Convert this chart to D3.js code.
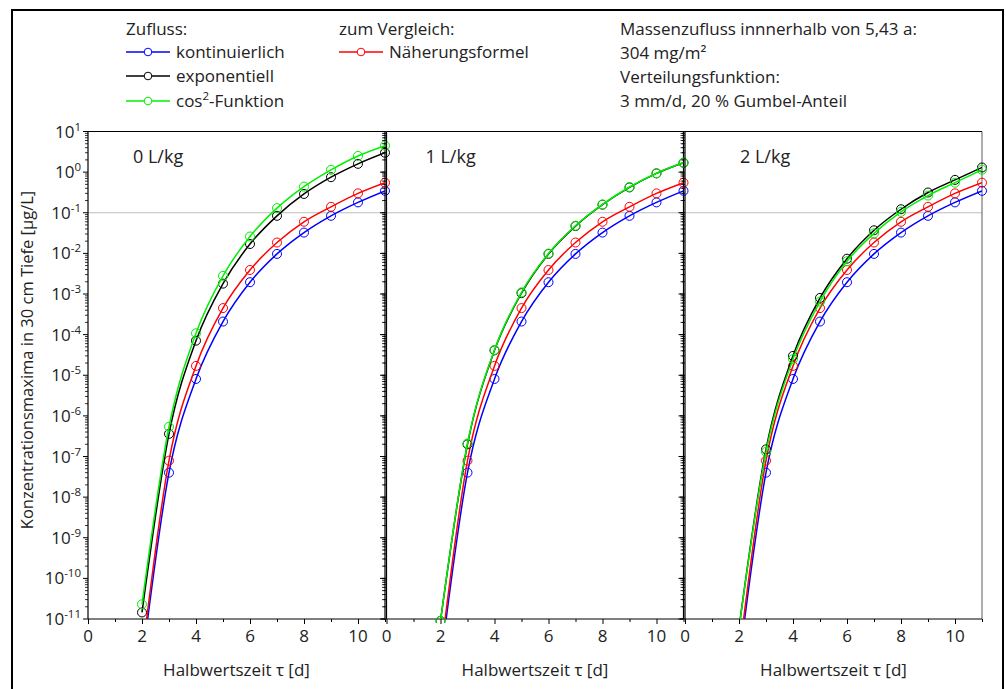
<!DOCTYPE html>
<html><head><meta charset="utf-8">
<script src="https://cdn.jsdelivr.net/npm/d3@7"></script>
<style>
html,body{margin:0;padding:0;background:#fff;}
text{font-family:"Open Sans","Noto Sans",sans-serif;fill:#222;}
</style></head>
<body><svg id="c" width="1006" height="689"></svg>
<script>
// ---- data ----
const halfLives = [2, 3, 4, 5, 6, 7, 8, 9, 10, 11];
const panelLabels = ["0 L/kg", "1 L/kg", "2 L/kg"];
const kontinuierlich = [8e-13, 4.0e-8, 8.1e-6, 2.1e-4, 1.95e-3, 9.7e-3, 3.25e-2, 8.4e-2, 0.18, 0.346];
const naeherungsformel = [1.2e-12, 7.9e-8, 1.7e-5, 4.5e-4, 3.9e-3, 1.85e-2, 6.0e-2, 0.14, 0.30, 0.55];
const exponentiell = [
  [1.45e-11, 3.6e-7, 7.1e-5, 1.8e-3, 1.7e-2, 8.4e-2, 0.29, 0.75, 1.6, 3.0],
  [9e-12, 2.0e-7, 4.1e-5, 1.05e-3, 9.7e-3, 4.7e-2, 0.158, 0.42, 0.93, 1.7],
  [6e-12, 1.5e-7, 3.0e-5, 8.0e-4, 7.4e-3, 3.7e-2, 0.122, 0.315, 0.645, 1.3]
];
const cos2Funktion = [
  [2.3e-11, 5.4e-7, 1.08e-4, 2.8e-3, 2.6e-2, 0.13, 0.44, 1.14, 2.5, 4.5],
  [9e-12, 2.1e-7, 4.2e-5, 1.1e-3, 9.9e-3, 4.8e-2, 0.16, 0.43, 0.94, 1.72],
  [6e-12, 1.3e-7, 2.5e-5, 6.5e-4, 6.4e-3, 3.1e-2, 0.105, 0.265, 0.55, 1.14]
];
const yTickExponents = [1, 0, -1, -2, -3, -4, -5, -6, -7, -8, -9, -10, -11];
const xTickLabels = [0, 2, 4, 6, 8, 10];
const thresholdValue = 0.1;
const legendHeader = ["Zufluss:", "zum Vergleich:"];
const infoLines = ["Massenzufluss innnerhalb von 5,43 a:", "304 mg/m²", "Verteilungsfunktion:", "3 mm/d, 20 % Gumbel-Anteil"];
const yTitle = "Konzentrationsmaxima in 30 cm Tiefe [µg/L]";
const xTitle = "Halbwertszeit τ [d]";

// ---- layout ----
const svg = d3.select("#c");
const colors = {blue: "#0000ff", red: "#ff0000", black: "#000000", green: "#00f000"};
const FS = "17px";
svg.append("rect").attr("x", 12).attr("y", 10).attr("width", 991).attr("height", 700)
  .attr("fill", "none").attr("stroke", "#000").attr("stroke-width", 2);

const plotTop = 131.5, plotBottom = 619, pw = 297;
const panelLeft = [88, 386.5, 685];
const y = d3.scaleLog().domain([1e-11, 10]).range([plotBottom, plotTop]);

const minorVals = [];
for (let e = -11; e < 1; e++) for (let m = 2; m <= 9; m++) minorVals.push(m * Math.pow(10, e));

panelLabels.forEach((lab, i) => {
  const x0 = panelLeft[i];
  const x = d3.scaleLinear().domain([0, 11]).range([x0, x0 + pw]);
  const g = svg.append("g");
  const clipId = "clip" + i;
  svg.append("clipPath").attr("id", clipId).append("rect")
    .attr("x", x0).attr("y", plotTop).attr("width", pw).attr("height", plotBottom - plotTop);
  const clipM = "clipm" + i;
  svg.append("clipPath").attr("id", clipM).append("rect")
    .attr("x", x0 - 10).attr("y", plotTop - 10).attr("width", pw + 20).attr("height", plotBottom - plotTop + 14);

  g.append("line").attr("x1", x0).attr("x2", x0 + pw).attr("y1", y(thresholdValue)).attr("y2", y(thresholdValue))
    .attr("stroke", "#bdbdbd").attr("stroke-width", 1.2);

  const la = g.append("g");
  la.append("line").attr("x1", x0).attr("x2", x0).attr("y1", plotTop).attr("y2", plotBottom).attr("stroke", "#000").attr("stroke-width", 1.2);
  yTickExponents.forEach(e => {
    la.append("line").attr("x1", x0 - 5).attr("x2", x0).attr("y1", y(Math.pow(10, e))).attr("y2", y(Math.pow(10, e))).attr("stroke", "#000");
  });
  minorVals.forEach(v => {
    la.append("line").attr("x1", x0 - 3).attr("x2", x0).attr("y1", y(v)).attr("y2", y(v)).attr("stroke", "#000").attr("stroke-width", 0.8);
  });
  const xr = x0 + pw;
  if (i < 2) {
    la.append("line").attr("x1", xr).attr("x2", xr).attr("y1", plotTop).attr("y2", plotBottom).attr("stroke", "#000").attr("stroke-width", 1.2);
    yTickExponents.forEach(e => {
      la.append("line").attr("x1", xr - 5).attr("x2", xr).attr("y1", y(Math.pow(10, e))).attr("y2", y(Math.pow(10, e))).attr("stroke", "#000");
    });
    minorVals.forEach(v => {
      la.append("line").attr("x1", xr - 3).attr("x2", xr).attr("y1", y(v)).attr("y2", y(v)).attr("stroke", "#000").attr("stroke-width", 0.8);
    });
  } else {
    la.append("line").attr("x1", xr).attr("x2", xr).attr("y1", plotTop).attr("y2", plotBottom).attr("stroke", "#777").attr("stroke-width", 1.2);
  }
  g.append("line").attr("x1", x0).attr("x2", x0 + pw).attr("y1", plotTop).attr("y2", plotTop).attr("stroke", "#000").attr("stroke-width", 1.2);

  if (i === 0) {
    yTickExponents.forEach(e => {
      const t = g.append("text").attr("x", x0 - 7).attr("y", y(Math.pow(10, e)) + 6)
        .attr("text-anchor", "end").style("font-size", FS);
      t.append("tspan").text("10");
      t.append("tspan").attr("dy", -7).style("font-size", "11.5px").text(String(e));
    });
  }

  const xa = g.append("g").attr("transform", `translate(0,${plotBottom})`)
    .call(d3.axisBottom(x).tickValues(d3.range(0, 12)).tickSize(5).tickFormat(""));
  xa.select(".domain").attr("stroke", "#000").attr("stroke-width", 1.2).attr("d", `M${x0},0H${x0 + pw}`);
  xa.selectAll(".tick line").attr("y2", d => d % 2 === 0 ? 5 : 3).attr("stroke", "#000");
  xTickLabels.forEach(v => {
    g.append("text").attr("x", x(v)).attr("y", plotBottom + 23).attr("text-anchor", "middle")
      .style("font-size", FS).text(v);
  });
  g.append("text").attr("x", x(5.5)).attr("y", plotBottom + 57).attr("text-anchor", "middle")
    .style("font-size", FS).text(xTitle);

  const labOff = [45, 39, 55][i];
  g.append("text").attr("x", x0 + labOff).attr("y", 163).style("font-size", "18px").text(lab);

  const series = [
    {vals: kontinuierlich, c: colors.blue},
    {vals: naeherungsformel, c: colors.red},
    {vals: exponentiell[i], c: colors.black},
    {vals: cos2Funktion[i], c: colors.green}
  ];
  const line = d3.line().x(d => x(d[0])).y(d => y(d[1])).curve(d3.curveMonotoneX);
  series.forEach(s => {
    const pts = halfLives.map((h, k) => [h, s.vals[k]]);
    g.append("path").attr("clip-path", `url(#${clipId})`).attr("d", line(pts))
      .attr("fill", "none").attr("stroke", s.c).attr("stroke-width", 1.5);
    g.append("g").attr("clip-path", `url(#${clipM})`).selectAll("circle").data(pts).join("circle")
      .attr("cx", d => x(d[0])).attr("cy", d => y(d[1])).attr("r", 4.5)
      .attr("fill", "none").attr("stroke", s.c).attr("stroke-width", 1);
  });
});

svg.append("text").attr("transform", `translate(33,360) rotate(-90)`)
  .attr("text-anchor", "middle").style("font-size", "16.5px").text(yTitle);

const leg = svg.append("g");
leg.append("text").attr("x", 126).attr("y", 35).style("font-size", FS).text(legendHeader[0]);
leg.append("text").attr("x", 339).attr("y", 35).style("font-size", FS).text(legendHeader[1]);
const legItems = [
  {x: 126, y: 52, c: colors.blue, t: "kontinuierlich"},
  {x: 126, y: 76, c: colors.black, t: "exponentiell"},
  {x: 126, y: 101, c: colors.green, t: "cos2"},
  {x: 339, y: 52, c: colors.red, t: "Näherungsformel"}
];
legItems.forEach(it => {
  leg.append("line").attr("x1", it.x).attr("x2", it.x + 44).attr("y1", it.y).attr("y2", it.y)
    .attr("stroke", it.c).attr("stroke-width", 1.5);
  leg.append("circle").attr("cx", it.x + 22).attr("cy", it.y).attr("r", 3.8)
    .attr("fill", "#fff").attr("stroke", it.c).attr("stroke-width", 1);
  const t = leg.append("text").attr("x", it.x + 50).attr("y", it.y + 6).style("font-size", FS);
  if (it.t === "cos2") {
    t.append("tspan").text("cos");
    t.append("tspan").attr("dy", -7).style("font-size", "11.5px").text("2");
    t.append("tspan").attr("dy", 7).text("-Funktion");
  } else t.text(it.t);
});
infoLines.forEach((s, k) => {
  svg.append("text").attr("x", 620).attr("y", 35 + k * 24).style("font-size", FS).text(s);
});
</script></body></html>
